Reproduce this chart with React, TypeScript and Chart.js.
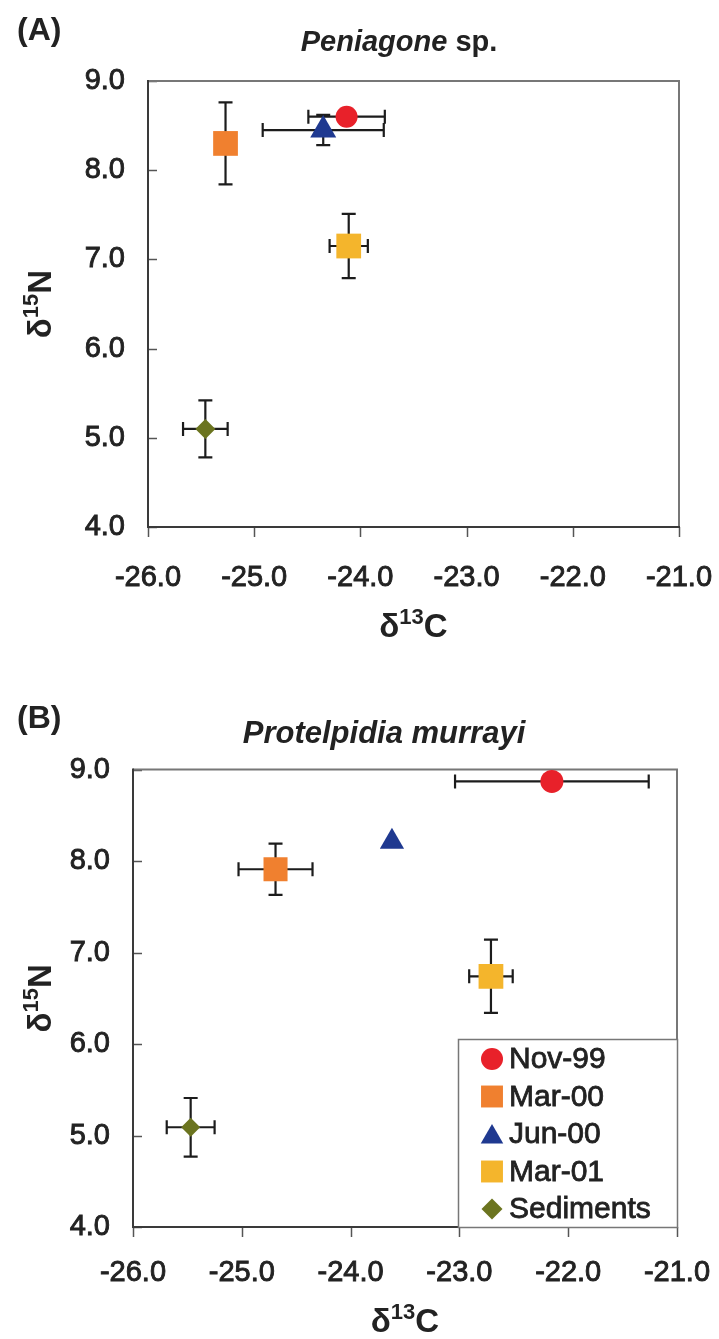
import React, { useEffect, useRef } from 'react';
import { Chart, registerables } from 'chart.js';

Chart.register(...registerables);

// ---- data ----
const SERIES = ['Nov-99', 'Mar-00', 'Jun-00', 'Mar-01', 'Sediments'];
const X_TICKS = [-26, -25, -24, -23, -22, -21];
const Y_TICKS = [4, 5, 6, 7, 8, 9];

// (A) Peniagone sp.
const A_C = [-24.13, -25.27, -24.35, -24.11, -25.46];
const A_N = [8.6, 8.3, 8.45, 7.15, 5.1];
const A_C_ERR = [0.36, 0, 0.57, 0.18, 0.21];
const A_N_ERR = [0, 0.46, 0.17, 0.36, 0.32];

// (B) Protelpidia murrayi
const B_C = [-22.15, -24.69, -23.62, -22.71, -25.47];
const B_N = [8.87, 7.91, 8.21, 6.74, 5.09];
const B_C_ERR = [0.89, 0.34, 0, 0.2, 0.22];
const B_N_ERR = [0, 0.28, 0, 0.4, 0.32];

// ---- styles ----
const COLORS = ['#e8212a', '#f0802f', '#1f3990', '#f4b52c', '#6b741f'];
const STYLES = ['circle', 'rect', 'triangle', 'rect', 'rectRot'];
const FONT = '"Liberation Sans", Arial, Helvetica, sans-serif';
const W = 719;

type Panel = {
  top: number;
  height: number;
  area: { left: number; right: number; top: number; bottom: number };
  label: string;
  labelBaseline: number;
  title: [string, boolean][];
  titleSize: number;
  titleX: number;
  titleBaseline: number;
  xTitleBaseline: number;
  c: number[];
  n: number[];
  cErr: number[];
  nErr: number[];
  radii: number[];
  legend: boolean;
  xPad: number;
};

const PANEL_A: Panel = {
  top: 0,
  height: 660,
  area: { left: 148, right: 679, top: 81, bottom: 527 },
  label: '(A)',
  labelBaseline: 40,
  title: [['Peniagone', true], [' sp.', false]],
  titleSize: 29,
  titleX: 399,
  titleBaseline: 51,
  xTitleBaseline: 637,
  c: A_C,
  n: A_N,
  cErr: A_C_ERR,
  nErr: A_N_ERR,
  radii: [11, 17.5, 15, 17.5, 10],
  legend: false,
  xPad: 34,
};

const PANEL_B: Panel = {
  top: 660,
  height: 679,
  area: { left: 133, right: 677, top: 109.5, bottom: 567 },
  label: '(B)',
  labelBaseline: 68,
  title: [['Protelpidia murrayi', true]],
  titleSize: 31,
  titleX: 384,
  titleBaseline: 83,
  xTitleBaseline: 672,
  c: B_C,
  n: B_N,
  cErr: B_C_ERR,
  nErr: B_N_ERR,
  radii: [11.5, 17, 14, 17.5, 9.5],
  legend: true,
  xPad: 29,
};

function markerPath(ctx: CanvasRenderingContext2D, style: string, x: number, y: number, r: number) {
  ctx.beginPath();
  if (style === 'circle') {
    ctx.arc(x, y, r, 0, Math.PI * 2);
  } else if (style === 'rect') {
    const s = r * Math.SQRT1_2;
    ctx.rect(x - s, y - s, 2 * s, 2 * s);
  } else if (style === 'triangle') {
    const a = (2 * Math.PI) / 3;
    ctx.moveTo(x, y - r);
    ctx.lineTo(x + Math.sin(a) * r, y - Math.cos(a) * r);
    ctx.lineTo(x + Math.sin(2 * a) * r, y - Math.cos(2 * a) * r);
    ctx.closePath();
  } else {
    ctx.moveTo(x, y - r);
    ctx.lineTo(x + r, y);
    ctx.lineTo(x, y + r);
    ctx.lineTo(x - r, y);
    ctx.closePath();
  }
  ctx.fill();
}

function drawParts(
  ctx: CanvasRenderingContext2D,
  parts: { t: string; font: string; dy: number }[],
  cx: number,
  baseline: number
) {
  let total = 0;
  parts.forEach((p) => {
    ctx.font = p.font;
    total += ctx.measureText(p.t).width;
  });
  let x = cx - total / 2;
  ctx.textAlign = 'left';
  ctx.textBaseline = 'alphabetic';
  parts.forEach((p) => {
    ctx.font = p.font;
    ctx.fillText(p.t, x, baseline + p.dy);
    x += ctx.measureText(p.t).width;
  });
}

function makePlugin(p: Panel) {
  return {
    id: 'panelDecor',
    beforeDatasetsDraw(chart: any) {
      const { ctx, chartArea: ca } = chart;
      const xs = chart.scales.x;
      const ys = chart.scales.y;
      ctx.save();
      // tick marks
      ctx.strokeStyle = '#555';
      ctx.lineWidth = 1.5;
      Y_TICKS.forEach((v) => {
        const py = Math.round(ys.getPixelForValue(v)) + 0.5;
        ctx.beginPath();
        ctx.moveTo(ca.left, py);
        ctx.lineTo(ca.left + 9, py);
        ctx.stroke();
      });
      X_TICKS.forEach((v) => {
        const px = Math.round(xs.getPixelForValue(v)) + 0.5;
        ctx.beginPath();
        ctx.moveTo(px, ca.bottom);
        ctx.lineTo(px, ca.bottom + 10);
        ctx.stroke();
      });
      // frame
      ctx.lineWidth = 2;
      ctx.strokeStyle = '#777';
      ctx.beginPath();
      ctx.moveTo(ca.left, ca.top);
      ctx.lineTo(ca.right, ca.top);
      ctx.lineTo(ca.right, ca.bottom);
      ctx.stroke();
      ctx.strokeStyle = '#3a3a3a';
      ctx.beginPath();
      ctx.moveTo(ca.left, ca.top - 1);
      ctx.lineTo(ca.left, ca.bottom);
      ctx.lineTo(ca.right + 1, ca.bottom);
      ctx.stroke();
      // error bars
      ctx.strokeStyle = '#1c1c1c';
      ctx.lineWidth = 2.2;
      const cap = 7;
      SERIES.forEach((_, i) => {
        const px = xs.getPixelForValue(p.c[i]);
        const py = ys.getPixelForValue(p.n[i]);
        if (p.cErr[i] > 0) {
          const x0 = xs.getPixelForValue(p.c[i] - p.cErr[i]);
          const x1 = xs.getPixelForValue(p.c[i] + p.cErr[i]);
          ctx.beginPath();
          ctx.moveTo(x0, py);
          ctx.lineTo(x1, py);
          ctx.moveTo(x0, py - cap);
          ctx.lineTo(x0, py + cap);
          ctx.moveTo(x1, py - cap);
          ctx.lineTo(x1, py + cap);
          ctx.stroke();
        }
        if (p.nErr[i] > 0) {
          const y0 = ys.getPixelForValue(p.n[i] - p.nErr[i]);
          const y1 = ys.getPixelForValue(p.n[i] + p.nErr[i]);
          ctx.beginPath();
          ctx.moveTo(px, y0);
          ctx.lineTo(px, y1);
          ctx.moveTo(px - cap, y0);
          ctx.lineTo(px + cap, y0);
          ctx.moveTo(px - cap, y1);
          ctx.lineTo(px + cap, y1);
          ctx.stroke();
        }
      });
      ctx.restore();
    },
    afterDraw(chart: any) {
      const { ctx, chartArea: ca } = chart;
      ctx.save();
      ctx.fillStyle = '#222';
      // panel label
      ctx.font = `bold 32px ${FONT}`;
      ctx.textAlign = 'left';
      ctx.textBaseline = 'alphabetic';
      ctx.fillText(p.label, 17, p.labelBaseline);
      // title
      drawParts(
        ctx,
        p.title.map(([t, it]) => ({ t, font: `${it ? 'italic ' : ''}bold ${p.titleSize}px ${FONT}`, dy: 0 })),
        p.titleX,
        p.titleBaseline
      );
      // x title
      const cx = (ca.left + ca.right) / 2;
      drawParts(
        ctx,
        [
          { t: 'δ', font: `bold 33px ${FONT}`, dy: 0 },
          { t: '13', font: `bold 22px ${FONT}`, dy: -13 },
          { t: 'C', font: `bold 33px ${FONT}`, dy: 0 },
        ],
        cx,
        p.xTitleBaseline
      );
      // y title
      ctx.save();
      ctx.translate(51, (ca.top + ca.bottom) / 2);
      ctx.rotate(-Math.PI / 2);
      drawParts(
        ctx,
        [
          { t: 'δ', font: `bold 33px ${FONT}`, dy: 0 },
          { t: '15', font: `bold 22px ${FONT}`, dy: -13 },
          { t: 'N', font: `bold 33px ${FONT}`, dy: 0 },
        ],
        0,
        0
      );
      ctx.restore();
      // legend
      if (p.legend) {
        const lw = 219;
        const lh = 188;
        const lx = ca.right - lw;
        const ly = ca.bottom - lh;
        ctx.fillStyle = '#fff';
        ctx.fillRect(lx, ly, lw, lh);
        ctx.strokeStyle = '#777';
        ctx.lineWidth = 1.5;
        ctx.strokeRect(lx + 0.5, ly + 0.5, lw, lh);
        const legendR = [11, 15.5, 13, 15.5, 10.5];
        chart.data.datasets.forEach((ds: any, i: number) => {
          const yy = ly + 20 + i * 37.5;
          ctx.fillStyle = ds.backgroundColor;
          const off = ds.pointStyle === 'triangle' ? 3 : 0;
          markerPath(ctx, ds.pointStyle, lx + 34, yy + off, legendR[i]);
          ctx.fillStyle = '#222';
          ctx.strokeStyle = '#222';
          ctx.lineWidth = 0.8;
          ctx.font = `30px ${FONT}`;
          ctx.textAlign = 'left';
          ctx.textBaseline = 'middle';
          ctx.fillText(ds.label, lx + 51, yy + 1);
          ctx.strokeText(ds.label, lx + 51, yy + 1);
        });
      }
      ctx.restore();
    },
  };
}

function PanelChart({ p }: { p: Panel }) {
  const ref = useRef<HTMLCanvasElement | null>(null);
  useEffect(() => {
    if (!ref.current) return;
    const H = p.height;
    const tickFont = { family: FONT, size: 29 };
    const chart = new Chart(ref.current, {
      type: 'scatter',
      data: {
        datasets: SERIES.map((label, i) => ({
          label,
          data: [{ x: p.c[i], y: p.n[i] }],
          backgroundColor: COLORS[i],
          borderWidth: 0,
          pointStyle: STYLES[i] as any,
          pointRadius: p.radii[i],
          pointHoverRadius: p.radii[i],
        })),
      },
      options: {
        animation: false,
        responsive: false,
        devicePixelRatio: 1,
        layout: { padding: { left: 0, top: p.area.top, right: W - p.area.right, bottom: 0 } },
        plugins: { legend: { display: false }, tooltip: { enabled: false }, title: { display: false } },
        scales: {
          x: {
            type: 'linear',
            min: -26,
            max: -21,
            grid: { display: false, drawTicks: false },
            border: { display: false },
            afterBuildTicks: (s: any) => {
              s.ticks = X_TICKS.map((v) => ({ value: v }));
            },
            afterFit: (s: any) => {
              s.height = H - p.area.bottom;
              s.paddingLeft = 0;
              s.paddingRight = 0;
            },
            ticks: {
              font: tickFont,
              color: '#222',
              textStrokeColor: '#222',
              textStrokeWidth: 0.9,
              padding: p.xPad,
              maxRotation: 0,
              autoSkip: false,
              callback: (v: any) => Number(v).toFixed(1),
            },
          },
          y: {
            type: 'linear',
            min: 4,
            max: 9,
            grid: { display: false, drawTicks: false },
            border: { display: false },
            afterBuildTicks: (s: any) => {
              s.ticks = Y_TICKS.map((v) => ({ value: v }));
            },
            afterFit: (s: any) => {
              s.width = p.area.left;
              s.paddingTop = 0;
              s.paddingBottom = 0;
            },
            ticks: {
              font: tickFont,
              color: '#222',
              textStrokeColor: '#222',
              textStrokeWidth: 0.9,
              padding: 23,
              autoSkip: false,
              callback: (v: any) => Number(v).toFixed(1),
            },
          },
        },
      },
      plugins: [makePlugin(p)],
    });
    return () => chart.destroy();
  }, [p]);
  return (
    <canvas
      ref={ref}
      width={W}
      height={p.height}
      style={{ position: 'absolute', left: 0, top: p.top, width: W, height: p.height, display: 'block' }}
    />
  );
}

export default function App() {
  return (
    <div style={{ position: 'absolute', left: 0, top: 0, width: W, height: 1339, background: '#fff' }}>
      <PanelChart p={PANEL_A} />
      <PanelChart p={PANEL_B} />
    </div>
  );
}
